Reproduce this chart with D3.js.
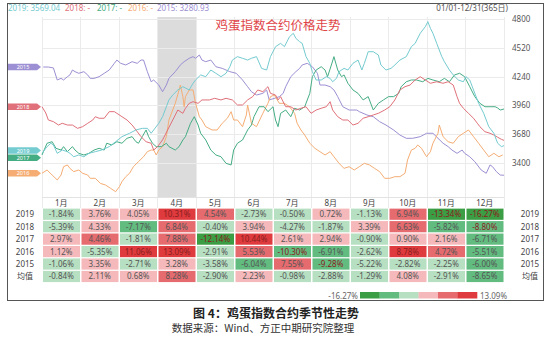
<!DOCTYPE html>
<html><head><meta charset="utf-8">
<script src="https://cdn.jsdelivr.net/npm/d3@7/dist/d3.min.js"></script>
<style>body{margin:0;background:#fff;}svg{display:block;}</style>
</head><body>
<svg id="c" width="550" height="342"></svg>
<script>
const months = ["1月","2月","3月","4月","5月","6月","7月","8月","9月","10月","11月","12月"];
const yTicks = [3400,3680,3960,4240,4520,4800];
const years = ["2019","2018","2017","2016","2015"];
const rowLabels = ["2019","2018","2017","2016","2015","均值"];
const legendVals = ["3569.04","-","-","-","3280.93"];
const pct2019 = [-1.84,3.76,4.05,10.31,4.54,-2.73,-0.50,0.72,-1.13,6.94,-13.34,-16.27];
const pct2018 = [-5.39,4.33,-7.17,6.84,-0.40,3.94,-4.27,-1.87,3.39,6.63,-5.82,-8.80];
const pct2017 = [2.97,4.46,-1.81,7.88,-12.14,10.44,2.61,2.94,-0.90,0.90,2.16,-6.71];
const pct2016 = [1.12,-5.35,11.06,13.09,-2.91,5.53,-10.30,-6.91,-2.62,8.78,4.72,-5.51];
const pct2015 = [-1.06,3.35,-2.71,3.28,-3.58,-6.04,7.55,-9.28,-5.22,-2.82,-2.25,-6.00];
const pctAvg  = [-0.84,2.11,0.68,8.28,-2.90,2.23,-0.98,-2.88,-1.29,4.08,-2.91,-8.65];

// [day of year, price]
const s2015 = [[2,4333],[6,4333],[10,4324],[13,4207],[16,4223],[18,4207],[21,4239],[23,4256],[25,4304],[27,4288],[30,4272],[34,4288],[37,4256],[39,4223],[42,4223],[46,4239],[50,4272],[54,4304],[58,4369],[60,4401],[63,4369],[67,4353],[72,4385],[76,4369],[79,4401],[81,4401],[84,4288],[87,4190],[89,4207],[93,4158],[96,4093],[99,4158],[101,4223],[106,4288],[110,4353],[113,4385],[117,4418],[120,4434],[122,4418],[125,4450],[127,4401],[130,4385],[134,4401],[138,4336],[143,4320],[149,4288],[154,4272],[159,4207],[163,4142],[166,4093],[170,4061],[175,4077],[178,4110],[180,4013],[185,4032],[188,4045],[191,4077],[193,4142],[197,4239],[201,4288],[204,4320],[206,4353],[210,4369],[214,4336],[218,4272],[220,4158],[224,4158],[228,4142],[231,4110],[234,4045],[238,3947],[243,3915],[249,3915],[251,3899],[257,3867],[262,3850],[267,3802],[272,3769],[278,3721],[283,3672],[288,3640],[293,3640],[299,3656],[304,3689],[309,3689],[313,3640],[317,3592],[321,3559],[324,3526],[328,3494],[332,3526],[334,3494],[338,3461],[342,3413],[347,3332],[351,3300],[354,3381],[356,3364],[359,3316],[362,3283],[365,3281]];
const s2019 = [[1,3494],[5,3559],[8,3592],[10,3575],[13,3494],[17,3526],[21,3510],[23,3494],[26,3461],[30,3478],[34,3461],[38,3494],[43,3510],[48,3526],[54,3559],[59,3607],[64,3656],[70,3689],[75,3721],[80,3737],[84,3737],[87,3689],[89,3721],[93,3786],[96,3850],[99,3947],[101,4013],[104,4061],[108,4110],[112,4142],[114,4129],[117,4110],[120,4175],[122,4207],[126,4256],[130,4239],[134,4304],[138,4272],[142,4239],[146,4272],[149,4336],[151,4401],[155,4434],[159,4418],[163,4401],[166,4418],[170,4434],[174,4320],[178,4304],[181,4434],[185,4531],[189,4563],[192,4531],[196,4628],[199,4661],[201,4612],[204,4579],[206,4563],[209,4434],[212,4369],[214,4288],[217,4207],[221,4207],[225,4239],[228,4223],[230,4190],[233,4223],[235,4288],[239,4320],[242,4304],[246,4369],[250,4401],[253,4304],[255,4369],[258,4482],[262,4482],[266,4450],[268,4353],[272,4304],[276,4320],[279,4353],[283,4401],[288,4434],[292,4531],[295,4563],[299,4661],[303,4725],[305,4774],[307,4710],[309,4661],[312,4563],[316,4434],[318,4385],[322,4304],[325,4256],[329,4207],[333,4190],[335,4239],[338,4207],[341,4110],[345,3980],[349,3883],[353,3753],[357,3689],[360,3592],[363,3559],[365,3569]];
const s2018 = [[1,3947],[4,3886],[6,3818],[10,3802],[14,3769],[17,3786],[21,3769],[25,3769],[29,3737],[33,3753],[37,3786],[41,3818],[43,3850],[46,3835],[50,3835],[54,3899],[58,3899],[60,3883],[64,3850],[68,3818],[72,3769],[75,3721],[79,3656],[83,3607],[87,3592],[89,3526],[92,3559],[96,3624],[100,3721],[104,3818],[108,3915],[112,3883],[114,3932],[117,3980],[120,3996],[124,3980],[127,4013],[133,4013],[137,4029],[142,4013],[146,4029],[151,4013],[155,3964],[159,3964],[163,4013],[167,4045],[171,4110],[175,4093],[179,4142],[181,4077],[185,4061],[187,4013],[189,4045],[193,3947],[197,3947],[201,3915],[205,3932],[209,3947],[213,3883],[217,3915],[221,3932],[225,3947],[228,3996],[230,3915],[234,3850],[238,3818],[242,3818],[246,3769],[250,3786],[254,3835],[258,3850],[262,3867],[266,3883],[271,3915],[275,3947],[279,4013],[283,4110],[287,4142],[291,4158],[295,4207],[299,4239],[303,4207],[307,4175],[312,4190],[317,4175],[321,4190],[325,4158],[328,4045],[330,3980],[333,3932],[337,3883],[341,3835],[344,3786],[346,3753],[350,3704],[354,3689],[357,3672],[360,3650],[363,3630],[365,3620]];
const s2017 = [[1,3478],[5,3592],[9,3607],[12,3543],[16,3526],[18,3559],[21,3510],[25,3559],[27,3526],[30,3494],[34,3478],[38,3494],[42,3526],[46,3543],[50,3526],[52,3592],[56,3575],[60,3607],[64,3592],[68,3640],[72,3656],[75,3607],[77,3592],[80,3656],[83,3721],[85,3656],[88,3592],[91,3559],[95,3559],[99,3592],[101,3559],[106,3526],[109,3559],[112,3624],[114,3656],[118,3786],[121,3850],[124,3769],[126,3689],[130,3624],[134,3526],[138,3478],[142,3461],[146,3397],[150,3381],[152,3526],[155,3592],[159,3624],[163,3721],[166,3769],[168,3850],[172,3947],[176,3947],[179,3899],[183,3947],[185,3818],[187,3753],[189,3883],[193,3915],[197,3850],[200,3932],[204,3915],[208,3947],[210,4013],[212,4077],[214,4239],[217,4304],[221,4336],[224,4304],[226,4239],[229,4353],[231,4434],[234,4304],[237,4239],[239,4256],[242,4175],[246,4110],[250,4077],[254,4013],[258,4045],[262,3915],[266,3980],[270,4013],[274,4045],[278,4045],[282,4077],[284,4142],[288,4190],[292,4207],[296,4207],[301,4190],[305,4223],[309,4207],[314,4190],[318,4223],[322,4190],[326,4256],[330,4272],[334,4239],[338,4142],[342,4045],[346,3980],[350,3947],[354,3947],[358,3947],[360,3935],[362,3915],[365,3925]];
const s2016 = [[1,3300],[5,3332],[9,3283],[13,3235],[16,3283],[18,3364],[21,3381],[23,3348],[26,3316],[30,3332],[33,3300],[37,3283],[39,3251],[43,3251],[47,3202],[51,3186],[55,3154],[59,3121],[62,3170],[64,3219],[67,3267],[70,3300],[73,3364],[77,3413],[81,3461],[84,3510],[87,3526],[89,3526],[91,3478],[93,3526],[96,3559],[99,3656],[101,3818],[104,3915],[106,3980],[109,4110],[110,4158],[112,4045],[113,3947],[114,4045],[117,4110],[120,4110],[122,3980],[125,3850],[127,3818],[130,3753],[135,3721],[139,3721],[143,3786],[147,3835],[150,3899],[152,3818],[155,3818],[159,3753],[162,3867],[163,3964],[166,3786],[170,3753],[175,3883],[179,3980],[181,4045],[184,4061],[188,3980],[192,3980],[196,3947],[200,3883],[202,3786],[205,3721],[208,3672],[212,3592],[216,3543],[220,3510],[224,3478],[228,3510],[231,3461],[235,3397],[239,3348],[243,3364],[247,3332],[251,3364],[255,3397],[259,3381],[263,3348],[267,3316],[271,3251],[275,3251],[279,3267],[283,3267],[287,3300],[289,3429],[292,3526],[295,3543],[297,3575],[300,3543],[304,3461],[307,3510],[309,3592],[313,3689],[314,3769],[317,3656],[321,3607],[325,3592],[329,3656],[333,3689],[337,3721],[341,3656],[345,3592],[349,3526],[353,3461],[357,3494],[361,3461],[364,3478]];

const seriesData = {"2019": s2019, "2018": s2018, "2017": s2017, "2016": s2016, "2015": s2015};
const pctRows = [pct2019, pct2018, pct2017, pct2016, pct2015, pctAvg];
const colors = {"2019":"#74cbd0","2018":"#e07079","2017":"#45ad84","2016":"#f5ad74","2015":"#9d8fd3"};
const binColors = ["#3b9d44","#62bc80","#b6e0c1","#f6b9bb","#e66b6f","#df3a3d"];

const svg = d3.select("#c");
const L = 42, R = 504, T = 17, B = 197;
const x = d3.scaleLinear().domain([1,365]).range([L,R]);
const xm = d3.scaleBand().domain(months).range([L,R]);
const y = d3.scaleLinear().domain([3069.4,4819.4]).range([B,T]);
const font = "'Noto Sans','Noto Sans CJK SC',sans-serif";

// frame
svg.append("rect").attr("x",7.5).attr("y",3.5).attr("width",536).attr("height",297)
  .attr("fill","none").attr("stroke","#555").attr("stroke-width",1);

// highlight April
svg.append("rect").attr("x",xm("4月")).attr("y",T).attr("width",xm.bandwidth()).attr("height",B-T).attr("fill","#dcdcdc");

// grid
svg.append("g").selectAll("line").data(d3.range(13)).join("line")
  .attr("x1",i=>L+i*xm.step()).attr("x2",i=>L+i*xm.step()).attr("y1",T).attr("y2",208)
  .attr("stroke","#ebebeb").attr("stroke-width",1).attr("shape-rendering","crispEdges");
svg.append("g").selectAll("line").data(yTicks).join("line")
  .attr("x1",L).attr("x2",R).attr("y1",d=>Math.round(y(d))+0.5).attr("y2",d=>Math.round(y(d))+0.5)
  .attr("stroke","#ebebeb");
svg.append("line").attr("x1",L).attr("x2",R).attr("y1",B+0.5).attr("y2",B+0.5).attr("stroke","#e3e3e3");

// right axis
const ax = d3.axisRight(y).tickValues(yTicks).tickFormat(d3.format("d")).tickSize(0).tickPadding(0);
const axg = svg.append("g").attr("transform",`translate(${R+8},0)`).call(ax);
axg.select(".domain").remove();
axg.selectAll("text").attr("font-family",font).attr("font-size",8).attr("fill","#555");

// lines
const line = d3.line().x(d=>x(d[0])).y(d=>y(d[1]));
["2015","2016","2017","2018","2019"].forEach(k=>{
  svg.append("path").datum(seriesData[k]).attr("d",line).attr("fill","none")
    .attr("stroke",colors[k]).attr("stroke-width",1).attr("stroke-linejoin","round");
});

// left tags
let tags = years.map(k=>({k, y:y(seriesData[k][0][1])})).sort((a,b)=>a.y-b.y);
for(let i=1;i<tags.length;i++){ if(tags[i].y - tags[i-1].y < 7.2){ const m=(tags[i].y+tags[i-1].y)/2; tags[i-1].y=m-3.6; tags[i].y=m+3.6; } }
const tg = svg.append("g").selectAll("g").data(tags).join("g").attr("transform",d=>`translate(0,${d.y})`);
tg.append("path").attr("d","M8,-3.3 L37,-3.3 L41,0 L37,3.3 L8,3.3 Z").attr("fill",d=>colors[d.k]);
tg.append("text").attr("x",23).attr("y",2).attr("text-anchor","middle").attr("font-family",font)
  .attr("font-size",5.5).attr("fill","#fff").text(d=>d.k);

// top legend
const lx = [8,65,97,128,157];
svg.append("g").selectAll("text").data(years).join("text")
  .attr("x",(d,i)=>lx[i]).attr("y",11).attr("font-family",font).attr("font-size",8)
  .attr("fill",d=>colors[d]).text((d,i)=>`${d}: ${legendVals[i]}`);
svg.append("text").attr("x",508).attr("y",11).attr("text-anchor","end").attr("font-family",font)
  .attr("font-size",8).attr("fill","#555").text("01/01-12/31(365日)");

// title
svg.append("text").attr("x",278).attr("y",30).attr("text-anchor","middle")
  .attr("font-family","'Noto Sans CJK SC',sans-serif").attr("font-size",12.5).attr("fill","#e04448").text("鸡蛋指数合约价格走势");

// month labels
svg.append("g").selectAll("text").data(months).join("text")
  .attr("x",d=>xm(d)+xm.bandwidth()/2).attr("y",205.5).attr("text-anchor","middle")
  .attr("font-family",font).attr("font-size",8).attr("fill","#444").text(d=>d);

// table
const yr = d3.scaleBand().domain(rowLabels).range([208,282.7]).paddingInner(0.1).paddingOuter(0.05);
const maxPos = 13.09, minNeg = -16.27;
function binColor(v){
  if(v>=0){ const b = Math.min(2, Math.floor(v/(maxPos/3))); return binColors[3+b]; }
  const b = Math.min(2, Math.floor(v/(minNeg/3))); return binColors[2-b];
}
const rows = svg.append("g").selectAll("g").data(rowLabels).join("g");
rows.each(function(r,ri){
  const g = d3.select(this);
  const vals = pctRows[ri];
  g.selectAll("rect").data(vals).join("rect")
    .attr("x",(v,i)=>xm(months[i])+1).attr("y",yr(r)).attr("width",xm.bandwidth()-1.5).attr("height",yr.bandwidth())
    .attr("fill",v=>binColor(v));
  g.selectAll("text.v").data(vals).join("text").attr("class","v")
    .attr("x",(v,i)=>xm(months[i])+xm.bandwidth()/2).attr("y",yr(r)+yr.bandwidth()/2+3)
    .attr("text-anchor","middle").attr("font-family",font).attr("font-size",8)
    .attr("fill",v=>Math.abs(v)>=8.73 ? "#8a2020" : "#555").text(v=>v.toFixed(2)+"%");
  g.append("text").attr("x",25).attr("y",yr(r)+yr.bandwidth()/2+3).attr("text-anchor","middle")
    .attr("font-family",font).attr("font-size",8).attr("fill","#444").text(r);
  g.append("text").attr("x",530).attr("y",yr(r)+yr.bandwidth()/2+3).attr("text-anchor","middle")
    .attr("font-family",font).attr("font-size",8).attr("fill","#444").text(r);
});

// color bar
const cb = d3.scaleBand().domain(d3.range(6)).range([360,477]);
svg.append("g").selectAll("rect").data(binColors).join("rect")
  .attr("x",(d,i)=>cb(i)).attr("y",292).attr("width",cb.bandwidth()+0.3).attr("height",6.5).attr("fill",d=>d);
svg.append("text").attr("x",358).attr("y",298.5).attr("text-anchor","end").attr("font-family",font)
  .attr("font-size",8).attr("fill","#666").text(minNeg.toFixed(2)+"%");
svg.append("text").attr("x",480).attr("y",298.5).attr("font-family",font)
  .attr("font-size",8).attr("fill","#666").text(maxPos.toFixed(2)+"%");

// captions
svg.append("text").attr("x",276).attr("y",317.5).attr("text-anchor","middle")
  .attr("font-family","'Noto Sans CJK SC',sans-serif").attr("font-weight","bold").attr("font-size",12).attr("fill","#222")
  .text("图 4：鸡蛋指数合约季节性走势");
svg.append("text").attr("x",263).attr("y",332).attr("text-anchor","middle")
  .attr("font-family","'Noto Sans CJK SC',sans-serif").attr("font-size",10.5).attr("fill","#333")
  .text("数据来源：Wind、方正中期研究院整理");
</script>
</body></html>
